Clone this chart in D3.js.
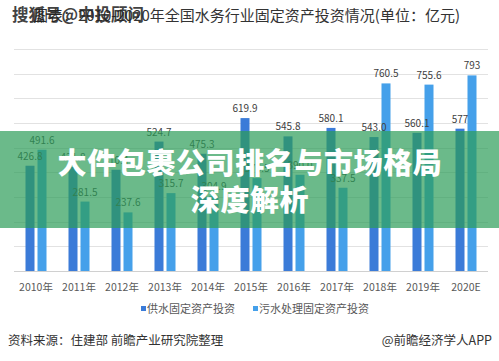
<!DOCTYPE html>
<html><head><meta charset="utf-8">
<script src="https://cdn.jsdelivr.net/npm/d3@7"></script>
<style>body{margin:0;background:#fff}svg{display:block}</style>
</head><body>
<svg id="c" width="499" height="361"></svg>
<script>
const years = ["2010年","2011年","2012年","2013年","2014年","2015年","2016年","2017年","2018年","2019年","2020E"];
const supply = [426.8,421.8,410.4,524.7,475.3,619.9,545.8,580.1,543.0,560.1,577];
const sewage = [491.6,281.5,237.6,315.7,304.9,376.5,390.0,337.5,760.5,755.6,793];
const supplyLabels = ["426.8","421.8","410.4","524.7","475.3","619.9","545.8","580.1","543.0","560.1","577"];
const sewageLabels = ["491.6","281.5","237.6","315.7","304.9","376.5","390.0","337.5","760.5","755.6","793"];
const seriesNames = ["供水固定资产投资","污水处理固定资产投资"];
const gridTicks = [0,100,200,300,400,500,600,700,800,900];

const svg = d3.select("#c");
const FONT = "'Noto Sans CJK SC','Noto Sans',sans-serif";
const c1 = "#3b7bd8", c2 = "#45a0ea";

const x = d3.scaleBand().domain(years).range([14.5, 487.5]).padding(0);
const y = d3.scaleLinear().domain([0, 900]).range([271, 49]);

// gridlines
svg.append("g").selectAll("line").data(gridTicks).join("line")
  .attr("x1", 14).attr("x2", 488)
  .attr("y1", d => Math.round(y(d)) + 0.5).attr("y2", d => Math.round(y(d)) + 0.5)
  .attr("stroke", d => d === 0 ? "#d0d0d0" : "#e2e2e2").attr("stroke-width", 1);

const cx = d => x(d) + x.bandwidth() / 2;

// bars
svg.append("g").selectAll("rect").data(years).join("rect")
  .attr("x", (d) => cx(d) - 10.5).attr("width", 9)
  .attr("y", (d, i) => y(supply[i])).attr("height", (d, i) => y(0) - y(supply[i]))
  .attr("fill", c1);
svg.append("g").selectAll("rect").data(years).join("rect")
  .attr("x", (d) => cx(d) + 1.5).attr("width", 9)
  .attr("y", (d, i) => y(sewage[i])).attr("height", (d, i) => y(0) - y(sewage[i]))
  .attr("fill", c2);

// value labels
const lab = svg.append("g").attr("font-family", FONT).attr("font-size", 10).attr("fill", "#404040").attr("text-anchor", "middle");
lab.selectAll("text.s").data(years).join("text").attr("class","s")
  .attr("x", d => cx(d) - 6).attr("y", (d, i) => y(supply[i]) - 6).text((d, i) => supplyLabels[i]);
lab.selectAll("text.w").data(years).join("text").attr("class","w")
  .attr("x", d => cx(d) + 6).attr("y", (d, i) => y(sewage[i]) - 6).text((d, i) => sewageLabels[i]);

// x axis labels
const xa = d3.axisBottom(x).tickSize(0).tickPadding(0);
const gx = svg.append("g").attr("transform", "translate(0,291)").call(xa);
gx.select(".domain").remove();
gx.selectAll("text").attr("font-family", FONT).attr("font-size", 10.5).attr("fill", "#595959").attr("dy", 0);

// legend
const leg = svg.append("g").attr("font-family", FONT).attr("font-size", 11).attr("fill", "#595959");
const legX = [141, 253];
seriesNames.forEach((n, i) => {
  leg.append("rect").attr("x", legX[i]).attr("y", 306).attr("width", 5).attr("height", 5).attr("fill", i ? c2 : c1);
  leg.append("text").attr("x", legX[i] + 6).attr("y", 313).text(n);
});

// footer
svg.append("text").attr("x", 8).attr("y", 345).attr("font-family", FONT).attr("font-size", 12.5).attr("fill", "#333").text("资料来源：住建部 前瞻产业研究院整理");
svg.append("text").attr("x", 492).attr("y", 345).attr("text-anchor", "end").attr("font-family", FONT).attr("font-size", 12.5).attr("fill", "#333").text("@前瞻经济学人APP");

// title
svg.append("text").attr("x", 33).attr("y", 21).attr("font-family", FONT).attr("font-size", 15).attr("fill", "#333")
  .text("图表：2010-2020年全国水务行业固定资产投资情况(单位：亿元)");
svg.append("text").attr("x", 12).attr("y", 21).attr("font-family", FONT).attr("font-size", 16.5).attr("font-weight", "bold").attr("fill", "#222").attr("opacity", 0.85)
  .text("搜狐号@中投顾问");

// banner overlay
svg.append("rect").attr("x", 0).attr("y", 131).attr("width", 499).attr("height", 97).attr("fill", "rgba(44,156,88,0.7)");
const bt = svg.append("g").attr("font-family", FONT).attr("font-weight", "900").attr("fill", "#fff").attr("text-anchor", "middle");
bt.append("text").attr("x", 250).attr("y", 174).attr("font-size", 29).attr("letter-spacing", 0.6).text("大件包裹公司排名与市场格局");
bt.append("text").attr("x", 250).attr("y", 211).attr("font-size", 29).attr("letter-spacing", 0.6).text("深度解析");
</script>
</body></html>
